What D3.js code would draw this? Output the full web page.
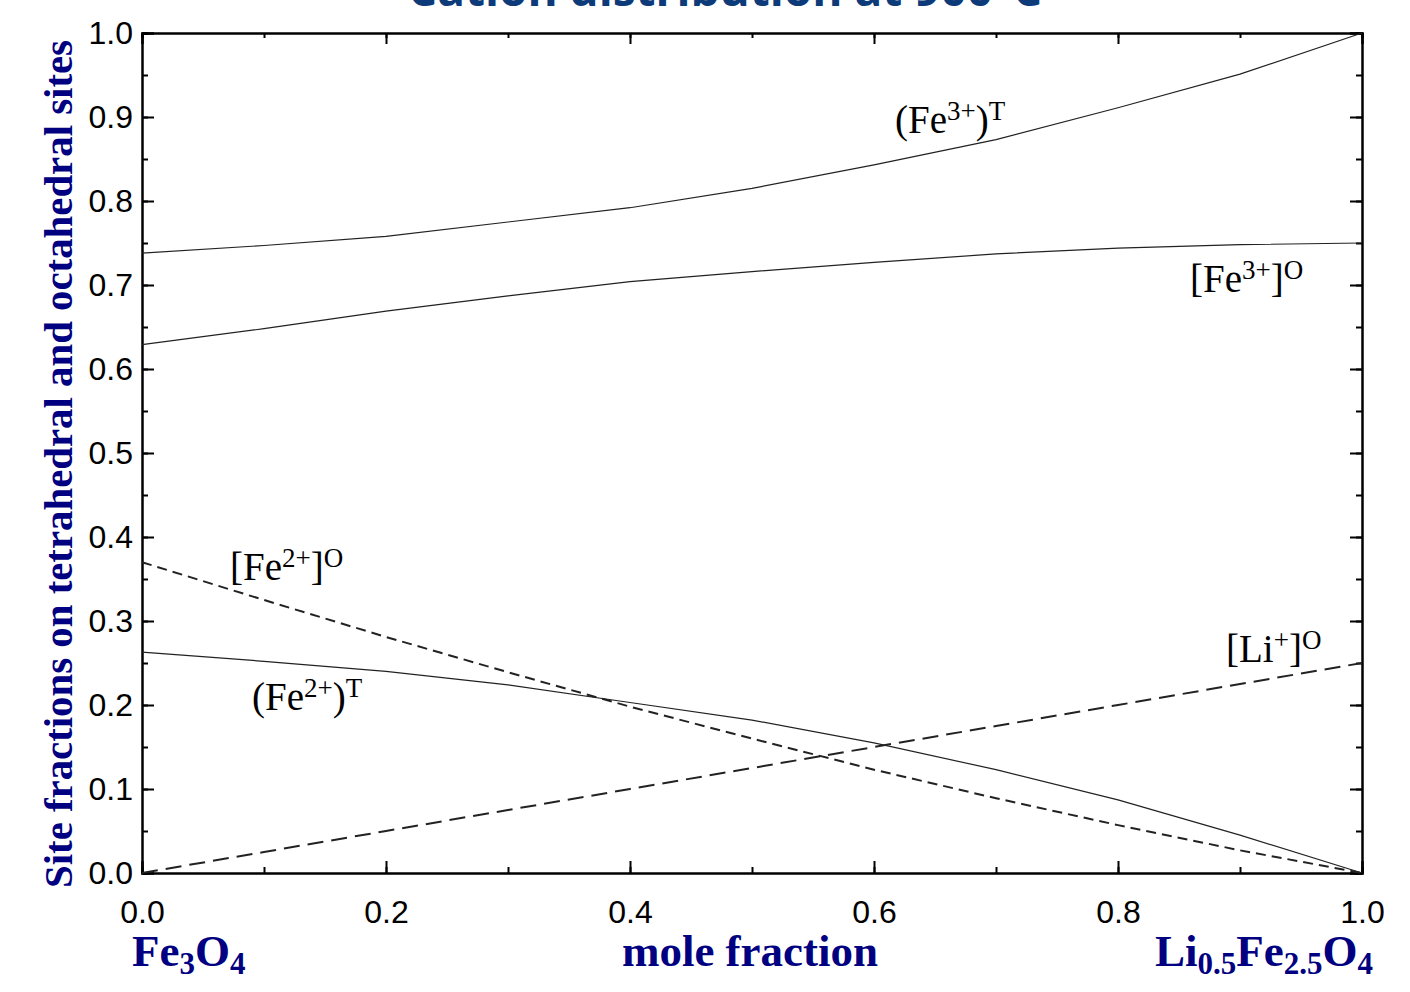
<!DOCTYPE html>
<html>
<head>
<meta charset="utf-8">
<script src="https://cdn.jsdelivr.net/npm/d3@7"></script>
<style>
  body { margin: 0; background: #fff; }
  .tick text { font-family: "Liberation Sans", Arial, sans-serif; font-size: 32px; fill: #000; }
</style>
</head>
<body>
<script>
// Cation distribution at 900 C - site fractions vs mole fraction

// data
var molFrac = [0, 0.1, 0.2, 0.3, 0.4, 0.5, 0.6, 0.7, 0.8, 0.9, 1.0];
var fe3T = [0.738, 0.747, 0.758, 0.775, 0.792, 0.815, 0.843, 0.873, 0.911, 0.951, 1.0];
var fe3O = [0.629, 0.648, 0.669, 0.687, 0.704, 0.716, 0.727, 0.737, 0.744, 0.748, 0.750];
var fe2O = [0.370, 0.325, 0.281, 0.239, 0.198, 0.160, 0.123, 0.089, 0.057, 0.027, 0.0];
var fe2T = [0.263, 0.252, 0.240, 0.224, 0.203, 0.182, 0.155, 0.123, 0.087, 0.045, 0.0];
var liO = [0, 0.025, 0.05, 0.075, 0.1, 0.125, 0.15, 0.175, 0.2, 0.225, 0.25];

var xTicks = [0, 0.2, 0.4, 0.6, 0.8, 1.0];
var yTicks = [0, 0.1, 0.2, 0.3, 0.4, 0.5, 0.6, 0.7, 0.8, 0.9, 1.0];

// size
var svgwidth = 1410;
var svgheight = 992;
var margin = { top: 33, right: 48, bottom: 119, left: 142 };
var width = svgwidth - margin.left - margin.right;
var height = svgheight - margin.top - margin.bottom;

var svg = d3.select("body")
    .append("svg")
    .attr("width", svgwidth)
    .attr("height", svgheight);

// title (cut off at top in original)
svg.append("text")
    .attr("x", 725)
    .attr("y", 6)
    .attr("text-anchor", "middle")
    .attr("font-family", "'Open Sans', sans-serif")
    .attr("font-weight", "bold")
    .attr("font-size", 46)
    .attr("fill", "#0d3b7a")
    .text("Cation distribution at 900°C");

var chartGroup = svg.append("g")
    .attr("transform", `translate(${margin.left}, ${margin.top})`);

var xScale = d3.scaleLinear().domain([0, 1]).range([0, width]);
var yScale = d3.scaleLinear().domain([0, 1]).range([height, 0]);

// minor ticks
var xMinor = d3.range(0, 1.0001, 0.1);
var yMinor = d3.range(0, 1.0001, 0.05);

function styleAxis(g) {
    g.select(".domain").attr("stroke-width", 2);
    g.selectAll(".tick line").attr("stroke-width", 2);
}

chartGroup.append("g")
    .attr("transform", `translate(0, ${height})`)
    .call(d3.axisBottom(xScale).tickValues(xMinor).tickSize(-6).tickFormat(""))
    .call(styleAxis);
chartGroup.append("g")
    .attr("transform", `translate(0, ${height})`)
    .call(d3.axisBottom(xScale).tickValues(xTicks).tickSize(-12).tickPadding(27).tickFormat(d3.format(".1f")))
    .call(styleAxis)
    .call(g => g.selectAll("text").attr("dy", "0.71em"));

chartGroup.append("g")
    .call(d3.axisTop(xScale).tickValues(xMinor).tickSize(-5).tickFormat(""))
    .call(styleAxis);
chartGroup.append("g")
    .call(d3.axisTop(xScale).tickValues(xTicks).tickSize(-11).tickFormat(""))
    .call(styleAxis);

chartGroup.append("g")
    .call(d3.axisLeft(yScale).tickValues(yMinor).tickSize(-6).tickFormat(""))
    .call(styleAxis);
chartGroup.append("g")
    .call(d3.axisLeft(yScale).tickValues(yTicks).tickSize(-12).tickPadding(9).tickFormat(d3.format(".1f")))
    .call(styleAxis);

chartGroup.append("g")
    .attr("transform", `translate(${width}, 0)`)
    .call(d3.axisRight(yScale).tickValues(yMinor).tickSize(-6).tickFormat(""))
    .call(styleAxis);
chartGroup.append("g")
    .attr("transform", `translate(${width}, 0)`)
    .call(d3.axisRight(yScale).tickValues(yTicks).tickSize(-12).tickFormat(""))
    .call(styleAxis);

// lines
var line = d3.line()
    .x((d, i) => xScale(molFrac[i]))
    .y(d => yScale(d));

var series = [
    { vals: fe3T, dash: null, w: 1.2 },
    { vals: fe3O, dash: null, w: 1.2 },
    { vals: fe2T, dash: null, w: 1.2 },
    { vals: fe2O, dash: "10,6", w: 2 },
    { vals: liO, dash: "16,8", w: 2 }
];

chartGroup.selectAll(".series")
    .data(series)
    .enter()
    .append("path")
    .attr("class", "series")
    .attr("d", d => line(d.vals))
    .attr("fill", "none")
    .attr("stroke", "#222")
    .attr("stroke-width", d => d.w)
    .attr("stroke-dasharray", d => d.dash);

// curve labels
var labels = [
    { x: 895, y: 133, open: "(", ion: "Fe", charge: "3+", close: ")", site: "T" },
    { x: 1190, y: 292, open: "[", ion: "Fe", charge: "3+", close: "]", site: "O" },
    { x: 230, y: 580, open: "[", ion: "Fe", charge: "2+", close: "]", site: "O" },
    { x: 252, y: 710, open: "(", ion: "Fe", charge: "2+", close: ")", site: "T" },
    { x: 1226, y: 662, open: "[", ion: "Li", charge: "+", close: "]", site: "O" }
];

labels.forEach(function(l) {
    var t = svg.append("text")
        .attr("x", l.x)
        .attr("y", l.y)
        .attr("font-family", "'Liberation Serif', 'Times New Roman', serif")
        .attr("font-size", 39)
        .attr("fill", "#000");
    t.append("tspan").text(l.open + l.ion);
    t.append("tspan").attr("dy", -13).attr("font-size", 27).text(l.charge);
    t.append("tspan").attr("dy", 13).text(l.close);
    t.append("tspan").attr("dy", -13).attr("font-size", 27).text(l.site);
});

// axis titles
var navy = "#000080";

svg.append("text")
    .attr("transform", "translate(72, 464) rotate(-90)")
    .attr("text-anchor", "middle")
    .attr("font-family", "'Liberation Serif', 'Times New Roman', serif")
    .attr("font-weight", "bold")
    .attr("font-size", 40)
    .attr("textLength", 848)
    .attr("lengthAdjust", "spacingAndGlyphs")
    .attr("fill", navy)
    .text("Site fractions on tetrahedral and octahedral sites");

svg.append("text")
    .attr("x", 750)
    .attr("y", 966)
    .attr("text-anchor", "middle")
    .attr("font-family", "'Liberation Serif', 'Times New Roman', serif")
    .attr("font-weight", "bold")
    .attr("font-size", 45)
    .attr("fill", navy)
    .text("mole fraction");

function formula(x, anchor, parts) {
    var t = svg.append("text")
        .attr("x", x)
        .attr("y", 966)
        .attr("text-anchor", anchor)
        .attr("font-family", "'Liberation Serif', 'Times New Roman', serif")
        .attr("font-weight", "bold")
        .attr("font-size", 45)
        .attr("fill", navy);
    var shifted = false;
    parts.forEach(function(p) {
        t.append("tspan").attr("dy", shifted ? -8 : 0).text(p[0]);
        t.append("tspan").attr("dy", 8).attr("font-size", 31).text(p[1]);
        shifted = true;
    });
}

formula(132, "start", [["Fe", "3"], ["O", "4"]]);
formula(1373, "end", [["Li", "0.5"], ["Fe", "2.5"], ["O", "4"]]);
</script>
</body>
</html>
